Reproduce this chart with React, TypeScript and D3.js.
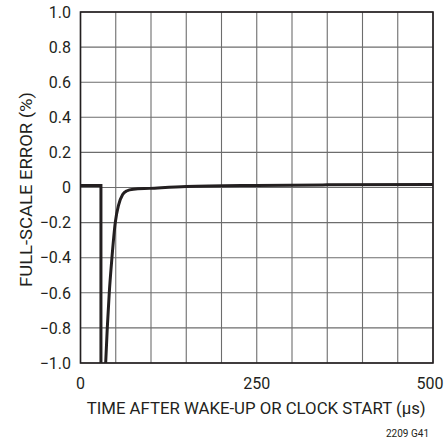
import React from "react";
import * as d3 from "d3";

const xTicks = [0, 250, 500];
const yTicks = [1.0, 0.8, 0.6, 0.4, 0.2, 0, -0.2, -0.4, -0.6, -0.8, -1.0];
const yTickLabels = ["1.0", "0.8", "0.6", "0.4", "0.2", "0", "\u22120.2", "\u22120.4", "\u22120.6", "\u22120.8", "\u22121.0"];

const stepTime = [0, 29, 29];
const stepErr = [0.011, 0.011, -1.0];

const curveTime = [35.7, 38, 40.8, 44.6, 49.3, 54, 59.8, 65.4, 75, 98, 150, 250, 350, 500];
const curveErr = [-1.0, -0.8, -0.6, -0.4, -0.2, -0.1, -0.04, -0.02, -0.01, -0.005, 0.006, 0.012, 0.015, 0.017];

const W = 444;
const H = 441;
const L = 80.5;
const R = 433;
const T = 12;
const B = 363;

const FONT = "Roboto, 'Liberation Sans', Arial, sans-serif";

export default function App() {
  const x = d3.scaleLinear().domain([0, 500]).range([L, R]);
  const y = d3.scaleLinear().domain([-1, 1]).range([B, T]);
  const vGrid = d3.range(0, 501, 50);
  const hGrid = d3.range(-1, 1.0001, 0.2);

  const stepLine = d3
    .line<number>()
    .x((_, i) => x(stepTime[i]))
    .y((_, i) => y(stepErr[i]))
    .curve(d3.curveLinear)(stepTime) as string;

  const curveLine = d3
    .line<number>()
    .x((_, i) => x(curveTime[i]))
    .y((_, i) => y(curveErr[i]))
    .curve(d3.curveMonotoneX)(curveTime) as string;

  const ink = "#231f20";

  return (
    <svg width={W} height={H} style={{ position: "absolute", left: 0, top: 0, background: "#fff" }}>
      <defs>
        <clipPath id="plot">
          <rect x={L} y={T} width={R - L} height={B - T} />
        </clipPath>
      </defs>
      {vGrid.map((v) => (
        <line key={"v" + v} x1={x(v)} x2={x(v)} y1={T} y2={B} stroke="#6d6d6d" strokeWidth={1.1} />
      ))}
      {hGrid.map((v, i) => (
        <line key={"h" + i} x1={L} x2={R} y1={y(v)} y2={y(v)} stroke="#6d6d6d" strokeWidth={1.1} />
      ))}
      <rect x={L} y={T} width={R - L} height={B - T} fill="none" stroke={ink} strokeWidth={1.6} />
      <g clipPath="url(#plot)">
        <path d={stepLine} fill="none" stroke={ink} strokeWidth={3} strokeLinejoin="miter" />
        <path d={curveLine} fill="none" stroke={ink} strokeWidth={3} strokeLinejoin="round" />
      </g>
      {yTicks.map((v, i) => (
        <text
          key={"yl" + i}
          x={71}
          y={y(v)}
          dy="0.36em"
          textAnchor="end"
          fontFamily={FONT}
          fontSize={16}
          fill={ink}
        >
          {yTickLabels[i]}
        </text>
      ))}
      {xTicks.map((v, i) => (
        <text
          key={"xl" + v}
          x={i === xTicks.length - 1 ? 443.5 : x(v)}
          y={389}
          textAnchor={i === xTicks.length - 1 ? "end" : "middle"}
          fontFamily={FONT}
          fontSize={16}
          fill={ink}
        >
          {v}
        </text>
      ))}
      <text
        x={86.7}
        y={414}
        textLength={339}
        lengthAdjust="spacingAndGlyphs"
        fontFamily={FONT}
        fontSize={16}
        fill={ink}
      >
        TIME AFTER WAKE-UP OR CLOCK START (µs)
      </text>
      <text
        transform={`translate(32, ${287}) rotate(-90)`}
        textLength={195}
        lengthAdjust="spacingAndGlyphs"
        fontFamily={FONT}
        fontSize={16}
        fill={ink}
      >
        FULL-SCALE ERROR (%)
      </text>
      <text x={429} y={437} textAnchor="end" fontFamily={FONT} fontSize={10} fill={ink}>
        2209 G41
      </text>
    </svg>
  );
}
